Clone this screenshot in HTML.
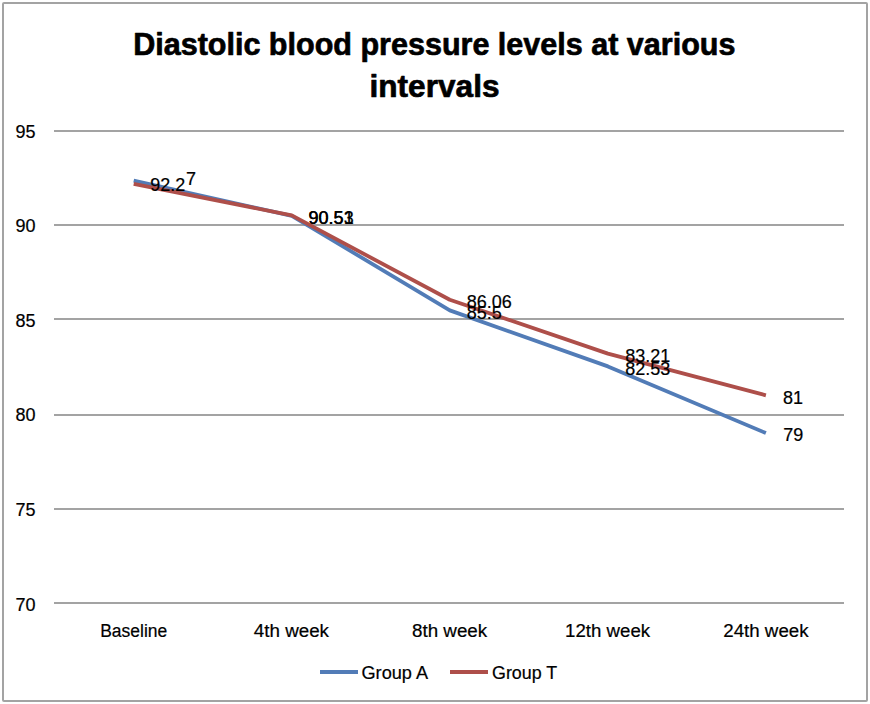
<!DOCTYPE html>
<html lang="en">
<head>
<meta charset="utf-8">
<title>Diastolic blood pressure levels at various intervals</title>
<style>
  html, body { margin: 0; padding: 0; background: #ffffff; }
  body { width: 870px; height: 704px; overflow: hidden; }
  svg { display: block; }
  text { font-family: "Liberation Sans", sans-serif; fill: #000000; }
  .title { font-weight: bold; font-size: 32px; stroke: #000; stroke-width: 0.7px; stroke-linejoin: round; }
  .lbl { font-size: 18px; stroke: #000; stroke-width: 0.2px; }
  .grid line { stroke: #a3a3a3; stroke-width: 2; }
</style>
</head>
<body>
<svg width="870" height="704" viewBox="0 0 870 704">
  <rect x="0" y="0" width="870" height="704" fill="#ffffff"/>
  <!-- chart frame -->
  <rect x="3" y="3" width="864" height="698" rx="1" ry="1" fill="#ffffff" stroke="#a3a3a3" stroke-width="2"/>

  <!-- title -->
  <text class="title" x="434.3" y="54.5" text-anchor="middle" textLength="602.3" lengthAdjust="spacingAndGlyphs">Diastolic blood pressure levels at various</text>
  <text class="title" x="434.5" y="96.5" text-anchor="middle" textLength="130" lengthAdjust="spacingAndGlyphs">intervals</text>

  <!-- gridlines -->
  <g class="grid">
    <line x1="54" y1="131" x2="844" y2="131"/>
    <line x1="54" y1="225" x2="844" y2="225"/>
    <line x1="54" y1="319" x2="844" y2="319"/>
    <line x1="54" y1="415" x2="844" y2="415"/>
    <line x1="54" y1="509" x2="844" y2="509"/>
    <line x1="54" y1="603" x2="844" y2="603"/>
  </g>

  <!-- y axis labels -->
  <g class="lbl">
    <text x="15.6" y="137.5">95</text>
    <text x="15.6" y="231.8">90</text>
    <text x="15.6" y="326.6">85</text>
    <text x="15.6" y="420.7">80</text>
    <text x="15.6" y="515.9">75</text>
    <text x="15.6" y="610.7">70</text>
  </g>

  <!-- series -->
  <polyline fill="none" stroke="#527cb7" stroke-width="3.8" stroke-linejoin="round"
    points="133.7,180.7 291.8,215.8 449.8,310.4 607.9,366.4 765.9,433.1"/>
  <polyline fill="none" stroke="#ae4f4a" stroke-width="3.8" stroke-linejoin="round"
    points="133.7,183.9 291.8,215.4 449.8,299.8 607.9,353.6 765.9,395.3"/>

  <!-- data labels -->
  <g class="lbl">
    <text x="150.3" y="190.9">92.2</text>
    <text x="185.9" y="185">7</text>
    <text x="308.6" y="224.2">90.53</text>
    <text x="308.6" y="224.2">90.51</text>
    <text x="466.7" y="308">86.06</text>
    <text x="466.7" y="319">85.5</text>
    <text x="625.2" y="361.7">83.21</text>
    <text x="625.2" y="375.2">82.53</text>
    <text x="783.1" y="403.9">81</text>
    <text x="783.3" y="441.4">79</text>
  </g>

  <!-- category labels -->
  <g class="lbl" text-anchor="middle">
    <text x="133.7" y="636.8" textLength="67" lengthAdjust="spacingAndGlyphs">Baseline</text>
    <text x="291.4" y="636.8" textLength="75.2" lengthAdjust="spacingAndGlyphs">4th week</text>
    <text x="449.6" y="636.8" textLength="75.2" lengthAdjust="spacingAndGlyphs">8th week</text>
    <text x="607.6" y="636.8" textLength="85" lengthAdjust="spacingAndGlyphs">12th week</text>
    <text x="765.9" y="636.8" textLength="85.3" lengthAdjust="spacingAndGlyphs">24th week</text>
  </g>

  <!-- legend -->
  <line x1="320" y1="672" x2="358" y2="672" stroke="#527cb7" stroke-width="4"/>
  <text class="lbl" x="361.5" y="679" textLength="66.6" lengthAdjust="spacingAndGlyphs">Group A</text>
  <line x1="450" y1="672" x2="488" y2="672" stroke="#ae4f4a" stroke-width="4"/>
  <text class="lbl" x="492" y="679" textLength="65.2" lengthAdjust="spacingAndGlyphs">Group T</text>
</svg>
</body>
</html>
